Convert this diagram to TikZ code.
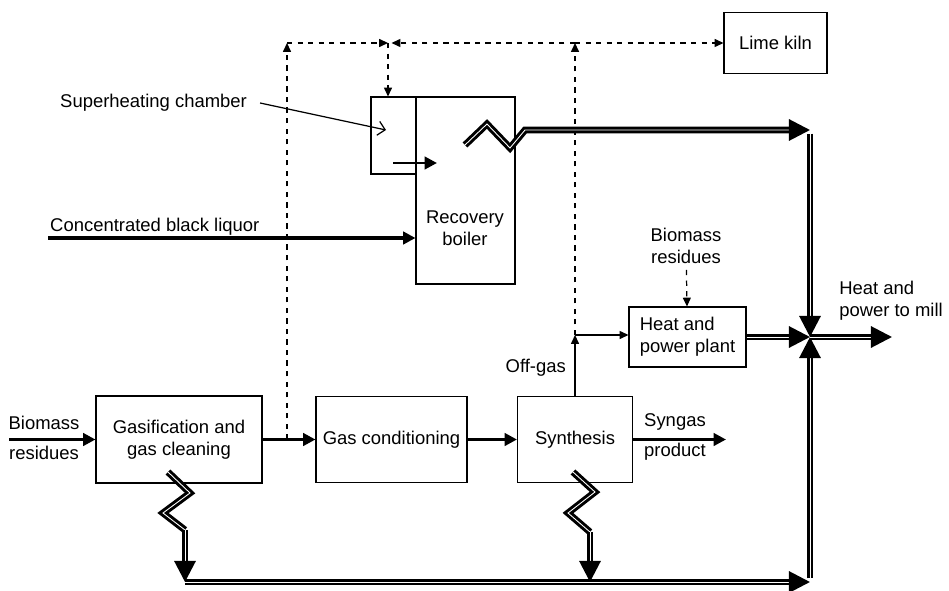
\documentclass[tikz,border=0pt]{standalone}
\usepackage{fontspec}
\setmainfont{Liberation Sans}
\usetikzlibrary{arrows.meta}

\tikzset{
    box/.style={draw, line width=0.6pt},
    flowline/.style={line width=2.2pt, -{Triangle[length=7pt,width=7pt]}},
    thinflow/.style={line width=0.7pt, -{Triangle[length=5pt,width=4.5pt]}},
    dashline/.style={dashed, line width=0.7pt, -{Triangle[length=5pt,width=4.5pt]}},
    heatpipe/.style={double, double distance=0.5pt, line width=1.7pt},
    heatline/.style={heatpipe, -{Triangle[length=12pt,width=12pt]}},
}

\begin{document}
\begin{tikzpicture}[x=0.02cm, y=-0.02cm, font=\fontsize{10.5}{12.5}\selectfont]
                \useasboundingbox (0,0) rectangle (949,591);

                % Nodes
                \node[box, minimum width=2.06cm, minimum height=1.22cm] (kiln) at (775.5,43) {Lime kiln};
                \node[box, minimum width=0.9cm, minimum height=1.54cm] (chamber) at (393.5,135.5) {};
                \node[box, minimum width=1.98cm, minimum height=3.74cm] (boiler) at (465.5,190.5) {};
                \node[align=center] (boilertxt) at (465,228) {Recovery\\boiler};
                \node[box, align=center, minimum width=3.32cm, minimum height=1.74cm] (gasif) at (179,439.5) {Gasification and\\gas cleaning};
                \node[box, minimum width=3.02cm, minimum height=1.72cm] (gascond) at (391.5,439.5) {Gas conditioning};
                \node[box, minimum width=2.30cm, minimum height=1.72cm] (synth) at (575,439.5) {Synthesis};
                \node[box, align=left, minimum width=2.34cm, minimum height=1.20cm] (hpp) at (687.5,337) {Heat and\\power plant};

                \node[align=center] (bioleft) at (44,438) {Biomass\\[5pt]residues};
                \node[align=center] (biotop) at (686,246) {Biomass\\residues};
                \node[align=left, anchor=west] (syngas) at (638,437) {Syngas\\[5pt]product};
                \node[anchor=east] (offgas) at (572,368) {Off-gas};
                \node[anchor=west] (shlabel) at (54,103) {Superheating chamber};
                \node[anchor=west] (liquortxt) at (44,227) {Concentrated black liquor};
                \node[align=left, anchor=east] (milltxt) at (949,301) {Heat and\\power to mill};

                % Coordinates
                \coordinate (bioin) at (9,439.5);
                \coordinate (liquor) at (48,238);
                \coordinate (shin) at (393,163);
                \coordinate (shout) at (437,163);
                \coordinate (gasdash) at (287,439.5);
                \coordinate (topleft) at (287,43);
                \coordinate (topmid) at (388,43);
                \coordinate (offjoin) at (575,335);
                \coordinate (offtop) at (575,43);
                \coordinate (product) at (726,439.5);
                \coordinate (junc) at (810,337);
                \coordinate (millout) at (892,337);
                \coordinate (rtop) at (810,130);
                \coordinate (rbot) at (810,582);
                \coordinate (bz) at (465,145);
                \coordinate (gz) at (168,472);
                \coordinate (sz) at (573,472);

                % Edges
                \draw[flowline] (bioin) -- (gasif);
                \draw[flowline] (gasif) -- (gascond);
                \draw[flowline] (gascond) -- (synth);
                \draw[flowline, line width=1.7pt] (synth) -- (product);
                \draw[flowline] (liquor) -- (liquor -| boiler.west);
                \draw[flowline, line width=1.7pt] (shin) -- (shout);
                \draw[line width=0.7pt, -{Straight Barb[length=4pt,width=8pt]}] (shlabel.east) ++(4pt,0) -- (386,130);

                \draw[thinflow] (synth) -- (offjoin);
                \draw[thinflow] (offjoin) -- (offjoin -| hpp.west);

                \draw[dashline] (gasdash) -- (topleft);
                \draw[dashline] (topleft) -- (topmid);
                \draw[dashline] (offjoin) -- (offtop);
                \draw[dashline] (offtop) -- ([xshift=2pt]topmid);
                \draw[dashline] (offtop) -- (kiln);
                \draw[dashline] (topmid) -- (topmid |- chamber.north);
                \draw[dashline] (biotop) -- (hpp);

                \draw[heatline] (bz) -- ++(22,-21) -- ++(23,24) -- ++(15,-18) -- (rtop);
                \draw[heatline] ([yshift=-2pt]rtop) -- (junc);
                \draw[heatline] (hpp) -- (junc);
                \draw[heatline] ([yshift=2pt]rbot) -- (junc);
                \draw[heatline] (junc) -- (millout);

                \draw[heatpipe] (gz) -- ++(22,21) -- ++(-27,20) -- ++(22,17) coordinate (gzend);
                \draw[heatline] (gzend) -- (gzend |- rbot);
                \draw[heatpipe] (sz) -- ++(22,20) -- ++(-27,21) -- ++(22,19) coordinate (szend);
                \draw[heatline] (szend) -- (szend |- rbot);
                \draw[heatline] (gzend |- rbot) -- (rbot);
\end{tikzpicture}
\end{document}
